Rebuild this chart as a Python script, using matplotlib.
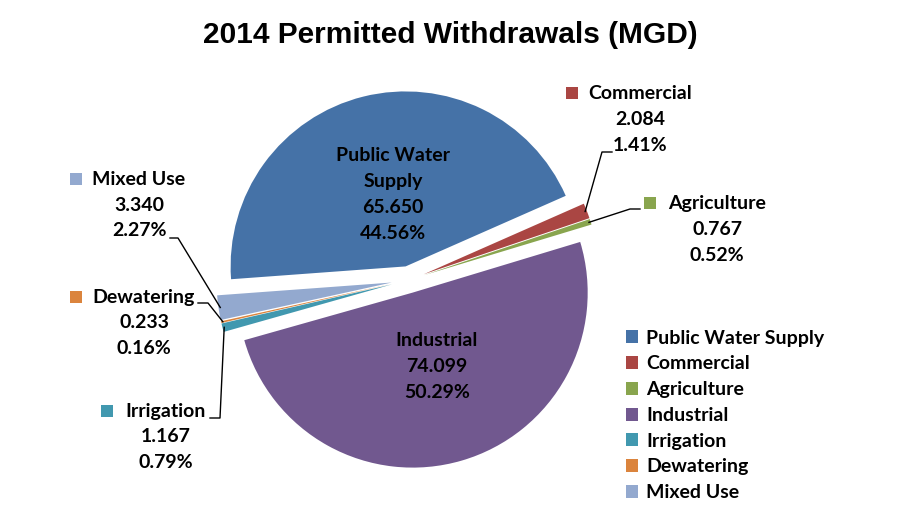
import numpy as np
import matplotlib
matplotlib.use('Agg')
import matplotlib.pyplot as plt
from matplotlib.patches import Rectangle

# data
categories = ['Public Water Supply', 'Commercial', 'Agriculture', 'Industrial',
              'Irrigation', 'Dewatering', 'Mixed Use']
mgd = [65.650, 2.084, 0.767, 74.099, 1.167, 0.233, 3.340]
pct = ['44.56%', '1.41%', '0.52%', '50.29%', '0.79%', '0.16%', '2.27%']
colors = ['#4572A7', '#AA4643', '#89A54E', '#71588F', '#4198AF', '#DB843D', '#93A9CF']
explode = [0.08, 0.09, 0.09, 0.075, 0.1, 0.1, 0.1]

plt.rcParams['font.family'] = ['Lato', 'DejaVu Sans']
W, H = 900, 520
CX, CY, R = 409, 280, 175   # pie centre / radius in pixels

fig = plt.figure(figsize=(9, 5.2), dpi=100)
ax = fig.add_axes([0, 0, 1, 1])

wedges, _ = ax.pie(mgd, colors=colors, explode=explode, startangle=184.2,
                   counterclock=False, radius=1, wedgeprops={'linewidth': 0})
# pie resets limits, so set them afterwards
ax.set_aspect('auto')
ax.set_xlim(-CX / R, (W - CX) / R)
ax.set_ylim((CY - H) / R, CY / R)
ax.axis('off')

def px(x, y):
    # pixel position -> data units
    return (x - CX) / R, (CY - y) / R

def outer_point(w, frac=1.0):
    ang = np.deg2rad((w.theta1 + w.theta2) / 2)
    cx, cy = w.center
    return cx + frac * w.r * np.cos(ang), cy + frac * w.r * np.sin(ang)

fs = 14
def block(lines, xc, ytop, marker=None):
    for k, s in enumerate(lines):
        ax.text(*px(xc, ytop + 26 * k), s, ha='center', va='center',
                fontsize=fs, fontweight='bold', color='black')
    if marker is not None:
        mx, my = px(marker[0] - 6, ytop + 6)
        ax.add_patch(Rectangle((mx, my), 12 / R, 12 / R, color=marker[1], lw=0))

fmt = lambda v: '%.3f' % v

# inside labels
block(['Public Water', 'Supply', fmt(mgd[0]), pct[0]], 393, 155)
block(['Industrial', fmt(mgd[3]), pct[3]], 437, 340)

# outside labels: (index, text centre x, top line y, marker x, leader path in px)
outside = [
    (1, 640, 93, 572, [(612, 152), (602, 152)]),
    (2, 717, 203, 650, [(640, 209), (630, 209)]),
    (6, 139, 179, 76, [(170, 238), (178, 238)]),
    (5, 144, 297, 76, [(198, 303), (208, 303)]),
    (4, 166, 411, 107, [(210, 418), (220, 418)]),
]
for i, xc, yt, mx, path in outside:
    block([categories[i], fmt(mgd[i]), pct[i]], xc, yt, marker=(mx, colors[i]))
    pts = [px(*p) for p in path] + [outer_point(wedges[i], 0.99)]
    xs, ys = zip(*pts)
    ax.plot(xs, ys, color='black', lw=1)

ax.legend(wedges, categories, loc='upper left',
          bbox_to_anchor=(616 / W, 1 - 320 / H), bbox_transform=fig.transFigure,
          frameon=False, prop={'size': fs, 'weight': 'bold'},
          handlelength=0.65, handleheight=0.65, handletextpad=0.4,
          labelspacing=0.45, borderpad=0)

fig.text(450 / W, 1 - 35 / H, '2014 Permitted Withdrawals (MGD)', ha='center',
         va='center', fontsize=21.5, fontweight='bold', family='Liberation Sans')

fig.savefig('out.png', dpi=100, facecolor='white')
